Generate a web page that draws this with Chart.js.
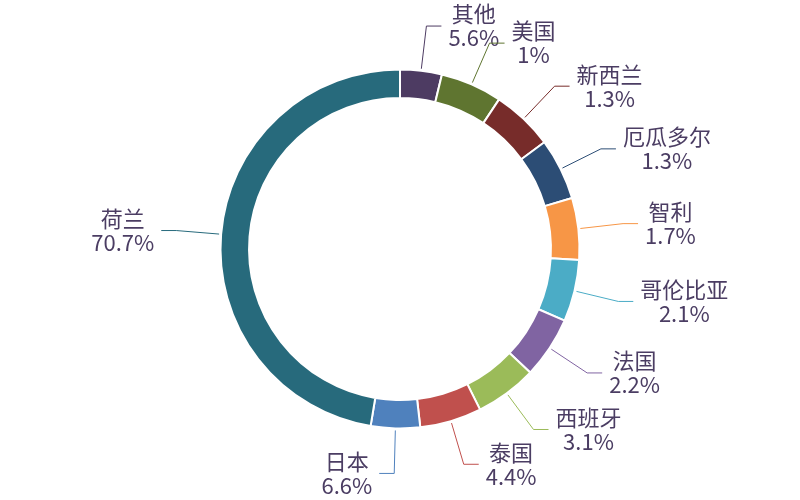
<!DOCTYPE html>
<html>
<head>
<meta charset="utf-8">
<script src="https://cdn.jsdelivr.net/npm/chart.js@4/dist/chart.umd.min.js"></script>
<style>
  html, body { margin: 0; padding: 0; background: #fff; }
  #wrap { width: 800px; height: 500px; }
</style>
</head>
<body>
<div id="wrap"><canvas id="chart-area"></canvas></div>
<script>
  // clockwise from 12 o'clock
  var countries = ['其他', '美国', '新西兰', '厄瓜多尔', '智利', '哥伦比亚', '法国', '西班牙', '泰国', '日本', '荷兰'];
  var shares = [5.6, 1, 1.3, 1.3, 1.7, 2.1, 2.2, 3.1, 4.4, 6.6, 70.7];
  var sliceColors = ['#4d3b62', '#5f7530', '#772c2a', '#2c4d75', '#f79646', '#4bacc6',
                     '#8064a2', '#9bbb59', '#c0504d', '#4f81bd', '#276a7c'];
  var minAngle = 20; // degrees, small slices are widened to this

  // widen slices smaller than minAngle, the rest share what is left (same rule as a pie "minAngle")
  function sliceAngles(values, min) {
    var total = values.reduce(function (a, b) { return a + b; }, 0);
    var rest = 360, bigSum = 0;
    var angles = values.map(function (v) {
      var a = v / total * 360;
      if (a < min) { rest -= min; return min; }
      bigSum += v;
      return null;
    });
    return angles.map(function (a, i) {
      return a === null ? values[i] * rest / bigSum : a;
    });
  }

  var labelFont = '22px "Noto Sans CJK SC", "Noto Sans", sans-serif';
  var labelColor = '#4b3d63';

  var outsideLabels = {
    id: 'outsideLabels',
    afterDatasetsDraw: function (chart) {
      var ctx = chart.ctx;
      var meta = chart.getDatasetMeta(0);
      ctx.save();
      ctx.font = labelFont;
      ctx.textBaseline = 'middle';
      ctx.textAlign = 'center';
      meta.data.forEach(function (arc, i) {
        var p = arc.getProps(['x', 'y', 'startAngle', 'endAngle', 'outerRadius'], true);
        var mid = (p.startAngle + p.endAngle) / 2;
        var cx = Math.cos(mid), cy = Math.sin(mid);
        var x0 = p.x + (p.outerRadius + 2) * cx, y0 = p.y + (p.outerRadius + 2) * cy;
        var x1 = p.x + (p.outerRadius + 45) * cx, y1 = p.y + (p.outerRadius + 45) * cy;
        var side = cx >= 0 ? 1 : -1;
        var x2 = x1 + side * 15;

        ctx.strokeStyle = sliceColors[i];
        ctx.lineWidth = 1;
        ctx.beginPath();
        ctx.moveTo(x0, y0);
        ctx.lineTo(x1, y1);
        ctx.lineTo(x2, y1);
        ctx.stroke();

        var line1 = countries[i];
        var line2 = shares[i] + '%';
        var w = Math.max(ctx.measureText(line1).width, ctx.measureText(line2).width);
        var tx = x2 + side * (7 + w / 2);
        ctx.fillStyle = labelColor;
        ctx.fillText(line1, tx, y1 - 12);
        ctx.fillText(line2, tx, y1 + 12);
      });
      ctx.restore();
    }
  };

  var ctx = document.getElementById('chart-area').getContext('2d');
  window.myDoughnut = new Chart(ctx, {
    type: 'doughnut',
    data: {
      labels: countries,
      datasets: [{
        data: sliceAngles(shares, minAngle),
        backgroundColor: sliceColors,
        borderColor: '#ffffff',
        borderWidth: 2
      }]
    },
    options: {
      responsive: true,
      maintainAspectRatio: false,
      animation: false,
      radius: 179.5,
      cutout: '84.1%',
      layout: { padding: { bottom: 2 } },
      plugins: {
        legend: { display: false },
        tooltip: { enabled: false }
      }
    },
    plugins: [outsideLabels]
  });
</script>
</body>
</html>
